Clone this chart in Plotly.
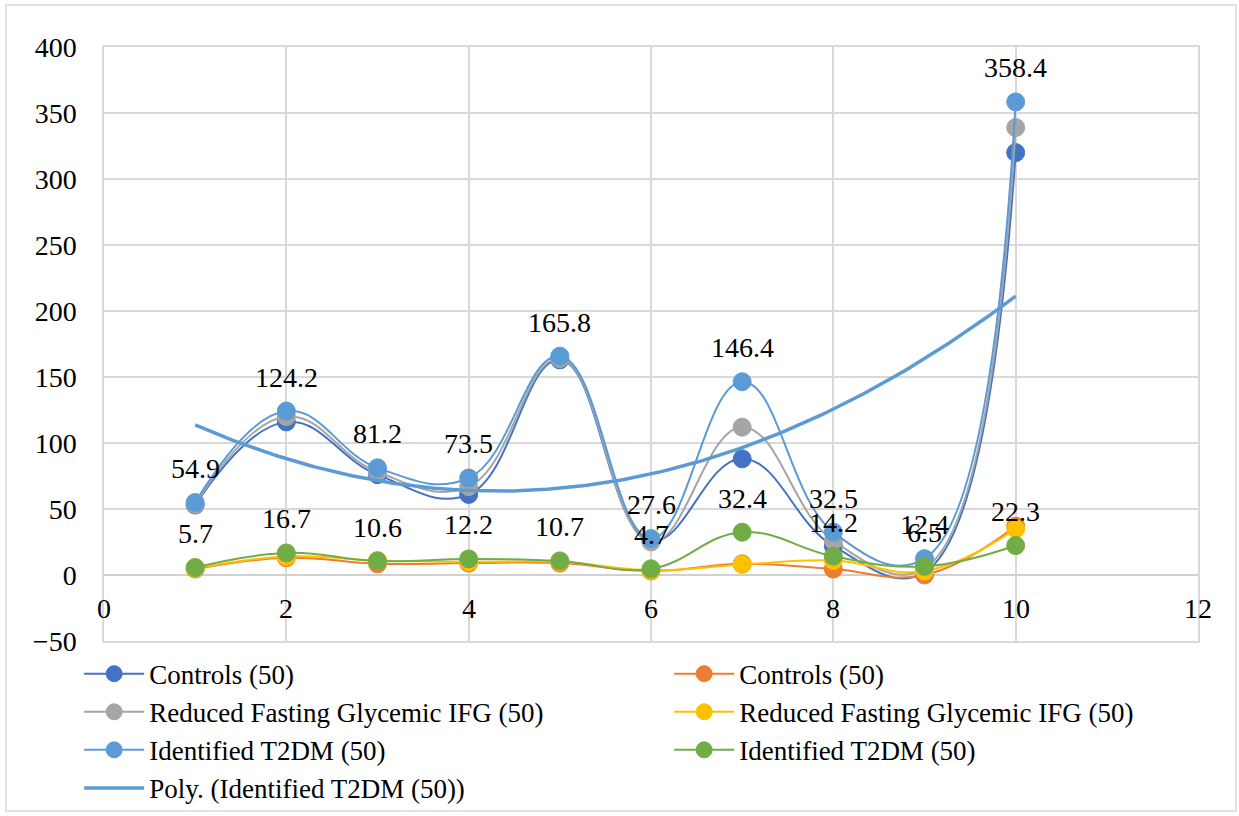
import numpy as np
import plotly.graph_objects as go

# Sample index on the x axis
x_vals = [1, 2, 3, 4, 5, 6, 7, 8, 9, 10]

# Upper group of series
controls_a = [53.0, 116.0, 76.0, 61.0, 163.0, 26.0, 88.0, 22.0, 2.0, 320.0]
ifg_a = [53.5, 120.0, 78.0, 67.0, 164.0, 25.0, 112.0, 26.0, 5.0, 339.0]
t2dm_a = [54.9, 124.2, 81.2, 73.5, 165.8, 27.6, 146.4, 32.5, 12.4, 358.4]

# Lower group of series
controls_b = [4.5, 13.0, 8.5, 9.0, 9.0, 3.0, 8.5, 4.5, 0.0, 37.0]
ifg_b = [5.0, 14.0, 11.0, 10.0, 10.0, 3.5, 8.0, 11.0, 3.0, 35.0]
t2dm_b = [5.7, 16.7, 10.6, 12.2, 10.7, 4.7, 32.4, 14.2, 6.5, 22.3]

# Axis ticks
x_ticks = [0, 2, 4, 6, 8, 10, 12]
y_ticks = [-50, 0, 50, 100, 150, 200, 250, 300, 350, 400]

FONT = "Liberation Serif"
FS = 28

series = [
    ("Controls (50)", controls_a, "#4472C4"),
    ("Controls (50)", controls_b, "#ED7D31"),
    ("Reduced Fasting Glycemic IFG (50)", ifg_a, "#A5A5A5"),
    ("Reduced Fasting Glycemic IFG (50)", ifg_b, "#FFC000"),
    ("Identified T2DM (50)", t2dm_a, "#5B9BD5"),
    ("Identified T2DM (50)", t2dm_b, "#70AD47"),
]

fig = go.Figure()
for name, vals, col in series:
    fig.add_trace(go.Scatter(
        x=x_vals, y=vals, name=name, mode="lines+markers",
        line=dict(color=col, width=2, shape="spline", smoothing=1.2),
        marker=dict(color=col, size=18, line=dict(color=col, width=1)),
    ))

# Second-order polynomial trendline of the upper T2DM series
coef = np.polyfit(x_vals, t2dm_a, 2)
xs = np.linspace(1, 10, 200)
fig.add_trace(go.Scatter(
    x=xs, y=np.polyval(coef, xs), name="Poly. (Identified T2DM (50))",
    mode="lines", line=dict(color="#5B9BD5", width=3.5),
))

annotations = []
# Value labels for the two T2DM series
for vals in (t2dm_a, t2dm_b):
    for xv, yv in zip(x_vals, vals):
        annotations.append(dict(
            x=xv, y=yv, xref="x", yref="y", text=f"{yv:g}", showarrow=False,
            yanchor="middle", yshift=34, font=dict(family=FONT, size=FS, color="black"),
        ))
# X tick labels sit just below the zero line
for t in x_ticks:
    annotations.append(dict(
        x=t, y=0, xref="x", yref="y", text=str(t), showarrow=False,
        yanchor="middle", yshift=-33, font=dict(family=FONT, size=FS, color="black"),
    ))

fig.update_layout(
    width=1239, height=816,
    margin=dict(l=104, r=41, t=47, b=175, autoexpand=False),
    paper_bgcolor="white", plot_bgcolor="white",
    font=dict(family=FONT, size=FS, color="black"),
    showlegend=True,
    legend=dict(
        orientation="h", x=-0.0227, xanchor="left", y=-0.0145, yanchor="top",
        entrywidth=515, entrywidthmode="pixels", itemwidth=60,
        font=dict(family=FONT, size=27, color="black"),
        traceorder="normal", bgcolor="rgba(0,0,0,0)",
    ),
    xaxis=dict(
        range=[0, 12], tickvals=x_ticks, showticklabels=False,
        showgrid=True, gridcolor="#d9d9d9", gridwidth=1.5,
        zeroline=False, showline=True, mirror=True, linecolor="#d9d9d9", linewidth=1.5,
    ),
    yaxis=dict(
        range=[-50, 400], tickvals=y_ticks,
        showgrid=True, gridcolor="#d9d9d9", gridwidth=1.5,
        zeroline=True, zerolinecolor="#d0d0d0", zerolinewidth=1.5,
        showline=True, mirror=True, linecolor="#d9d9d9", linewidth=1.5,
        ticks="", ticklabelstandoff=20,
        tickfont=dict(family=FONT, size=FS, color="black"),
    ),
    annotations=annotations,
    shapes=[dict(
        type="rect", xref="paper", yref="paper",
        x0=(6 - 104) / 1094, x1=(1236 - 104) / 1094,
        y0=(641 - 811) / 594, y1=(641 - 5) / 594,
        line=dict(color="#d9d9d9", width=1.5), fillcolor="rgba(0,0,0,0)", layer="below",
    )],
)

fig.write_html("out.html")
